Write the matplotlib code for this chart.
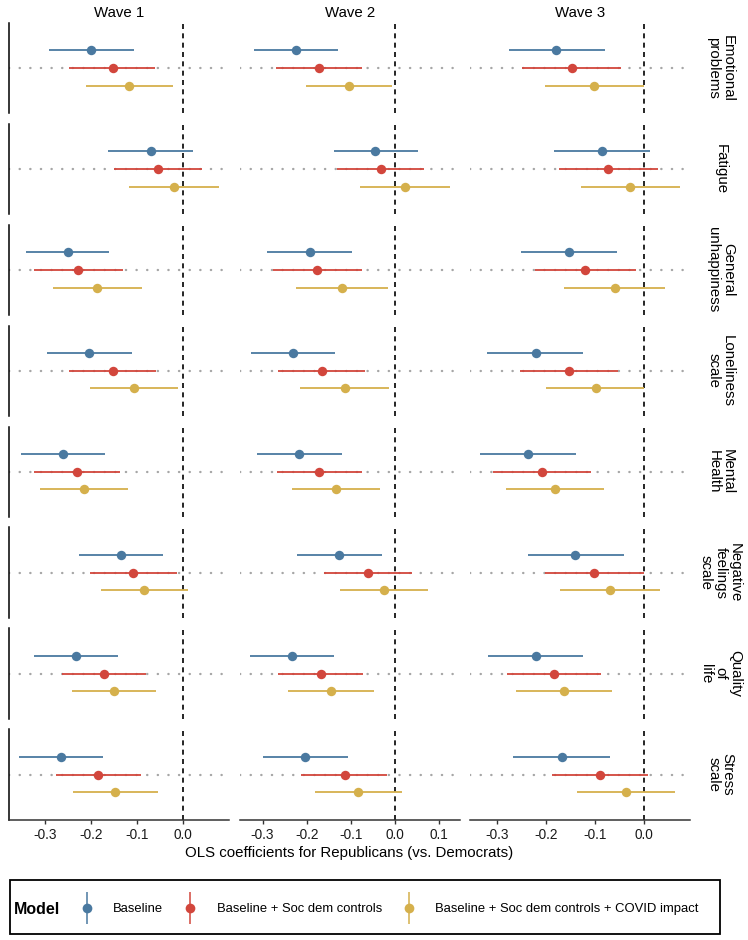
import matplotlib
matplotlib.use("Agg")
import matplotlib.pyplot as plt
import numpy as np
from matplotlib.lines import Line2D
from matplotlib.legend_handler import HandlerTuple
from matplotlib.patches import Rectangle
from matplotlib.ticker import MultipleLocator, FormatStrFormatter

plt.rcParams['font.family'] = ['Liberation Sans', 'DejaVu Sans']
plt.rcParams['axes.unicode_minus'] = False

waves = ['Wave 1', 'Wave 2', 'Wave 3']
outcomes = ['Emotional\nproblems', 'Fatigue', 'General\nunhappiness', 'Loneliness\nscale',
            'Mental\nHealth', 'Negative\nfeelings\nscale', 'Quality\nof\nlife', 'Stress\nscale']
models = ['Baseline', 'Baseline + Soc dem controls', 'Baseline + Soc dem controls + COVID impact']
colors = ['#4a79a0', '#d2463c', '#d5b04c']

# rows = waves, columns = outcomes (same order as above)
base_est = [[-0.200, -0.071, -0.252, -0.205, -0.262, -0.136, -0.234, -0.266],
            [-0.224, -0.044, -0.193, -0.231, -0.217, -0.126, -0.234, -0.203],
            [-0.179, -0.086, -0.154, -0.221, -0.237, -0.140, -0.221, -0.168]]
base_lo = [[-0.292, -0.163, -0.343, -0.296, -0.353, -0.228, -0.326, -0.357],
           [-0.320, -0.139, -0.290, -0.327, -0.312, -0.222, -0.329, -0.300],
           [-0.277, -0.183, -0.252, -0.321, -0.335, -0.238, -0.319, -0.267]]
base_hi = [[-0.108, 0.021, -0.161, -0.112, -0.170, -0.044, -0.143, -0.174],
           [-0.129, 0.052, -0.097, -0.135, -0.120, -0.029, -0.138, -0.107],
           [-0.080, 0.012, -0.056, -0.124, -0.139, -0.041, -0.124, -0.070]]

socdem_est = [[-0.154, -0.054, -0.229, -0.154, -0.232, -0.109, -0.172, -0.185],
              [-0.172, -0.032, -0.176, -0.165, -0.171, -0.061, -0.167, -0.114],
              [-0.148, -0.073, -0.121, -0.153, -0.209, -0.102, -0.183, -0.090]]
socdem_lo = [[-0.248, -0.151, -0.325, -0.248, -0.325, -0.202, -0.264, -0.277],
             [-0.269, -0.132, -0.276, -0.265, -0.267, -0.160, -0.265, -0.213],
             [-0.249, -0.174, -0.223, -0.254, -0.309, -0.203, -0.280, -0.189]]
socdem_hi = [[-0.062, 0.041, -0.132, -0.060, -0.138, -0.014, -0.082, -0.092],
             [-0.075, 0.067, -0.074, -0.068, -0.074, 0.040, -0.072, -0.018],
             [-0.046, 0.029, -0.016, -0.052, -0.108, 0.000, -0.087, 0.009]]

covid_est = [[-0.117, -0.020, -0.187, -0.107, -0.216, -0.085, -0.151, -0.148],
             [-0.105, 0.023, -0.120, -0.114, -0.134, -0.025, -0.144, -0.084],
             [-0.102, -0.028, -0.060, -0.099, -0.182, -0.069, -0.164, -0.037]]
covid_lo = [[-0.211, -0.117, -0.283, -0.202, -0.311, -0.180, -0.243, -0.241],
            [-0.202, -0.078, -0.224, -0.214, -0.233, -0.125, -0.242, -0.182],
            [-0.202, -0.129, -0.163, -0.200, -0.283, -0.172, -0.262, -0.137]]
covid_hi = [[-0.023, 0.078, -0.089, -0.012, -0.121, 0.011, -0.059, -0.054],
            [-0.007, 0.124, -0.016, -0.014, -0.034, 0.075, -0.047, 0.016],
            [0.000, 0.074, 0.044, 0.001, -0.081, 0.033, -0.066, 0.064]]

est = [base_est, socdem_est, covid_est]
lo = [base_lo, socdem_lo, covid_lo]
hi = [base_hi, socdem_hi, covid_hi]

# dodge offsets (baseline on top)
offsets = [0.233, 0.0, -0.233]

fig, axes = plt.subplots(len(outcomes), len(waves), figsize=(7.48, 9.4), dpi=100,
                         sharex='col')
fig.subplots_adjust(left=9.3 / 748, right=690 / 748, top=1 - 22.7 / 940,
                    bottom=1 - 820 / 940, wspace=0.049, hspace=0.114)

for j, wave in enumerate(waves):
    # free x scale per wave, 5% expansion like ggplot
    lows = [v for m in range(3) for v in lo[m][j]]
    highs = [v for m in range(3) for v in hi[m][j]]
    xmin, xmax = min(lows), max(highs)
    pad = 0.05 * (xmax - xmin)
    for i, outcome in enumerate(outcomes):
        ax = axes[i, j]
        ax.axhline(1, color='#a6a6a6', lw=1.7, ls=(0, (0.1, 4.4)),
                   dash_capstyle='round', zorder=0)
        ax.axvline(0, color='black', lw=1.2, ls=(0, (3.0, 2.6)), zorder=1)
        for m in range(3):
            y = 1 + offsets[m]
            ax.hlines(y, lo[m][j][i], hi[m][j][i], color=colors[m], lw=1.3, zorder=2)
            ax.plot(est[m][j][i], y, 'o', color=colors[m], ms=6.8, mew=0, zorder=3)
        ax.set_ylim(0.4, 1.6)
        ax.set_xlim(xmin - pad, xmax + pad)
        ax.set_yticks([])
        for s in ['top', 'right']:
            ax.spines[s].set_visible(False)
        ax.spines['left'].set_visible(j == 0)
        ax.spines['left'].set_color('black')
        ax.spines['left'].set_linewidth(1.1)
        ax.spines['bottom'].set_visible(i == len(outcomes) - 1)
        ax.spines['bottom'].set_color('#333333')
        ax.spines['bottom'].set_linewidth(1.1)
        ax.xaxis.set_major_locator(MultipleLocator(0.1))
        ax.xaxis.set_major_formatter(FormatStrFormatter('%.1f'))
        if i == len(outcomes) - 1:
            ax.tick_params(axis='x', length=3, width=1.0, color='#333333',
                           labelsize=9.8, pad=3, labelcolor='#1a1a1a')
        else:
            ax.tick_params(axis='x', length=0, labelbottom=False)
        if i == 0:
            ax.set_title(wave, fontsize=10.8, pad=4)
        if j == len(waves) - 1:
            ax.annotate(outcome, xy=(1, 0.5), xycoords='axes fraction',
                        xytext=(22, 0), textcoords='offset points', rotation=270,
                        ha='center', va='center', fontsize=10.8, linespacing=1.05,
                        multialignment='center')

fig.text(349.6 / 748, 1 - 853 / 940, 'OLS coefficients for Republicans (vs. Democrats)',
         ha='center', va='center', fontsize=10.8)

# legend: vertical pointrange keys
handles = []
for c in colors:
    vline = Line2D([], [], color=c, marker='|', ms=23, mew=1.1, ls='none')
    dot = Line2D([], [], color=c, marker='o', ms=7, mew=0, ls='none')
    handles.append((vline, dot))
leg = fig.legend(handles, models, handler_map={tuple: HandlerTuple(ndivide=1, pad=0)},
                 ncol=3, frameon=False, loc='center', numpoints=1,
                 bbox_to_anchor=(387.5 / 748, 1 - 909 / 940),
                 fontsize=9.4, handlelength=1.6, handletextpad=1.2, columnspacing=1.3)
fig.add_artist(Rectangle((10 / 748, 1 - 934 / 940), 710 / 748, 54 / 940,
                         transform=fig.transFigure, fill=False, edgecolor='black', lw=1.3))
fig.text(14 / 748, 1 - 909 / 940, 'Model', fontweight='bold', fontsize=11.5,
         ha='left', va='center')

fig.savefig('out.png', dpi=100)
